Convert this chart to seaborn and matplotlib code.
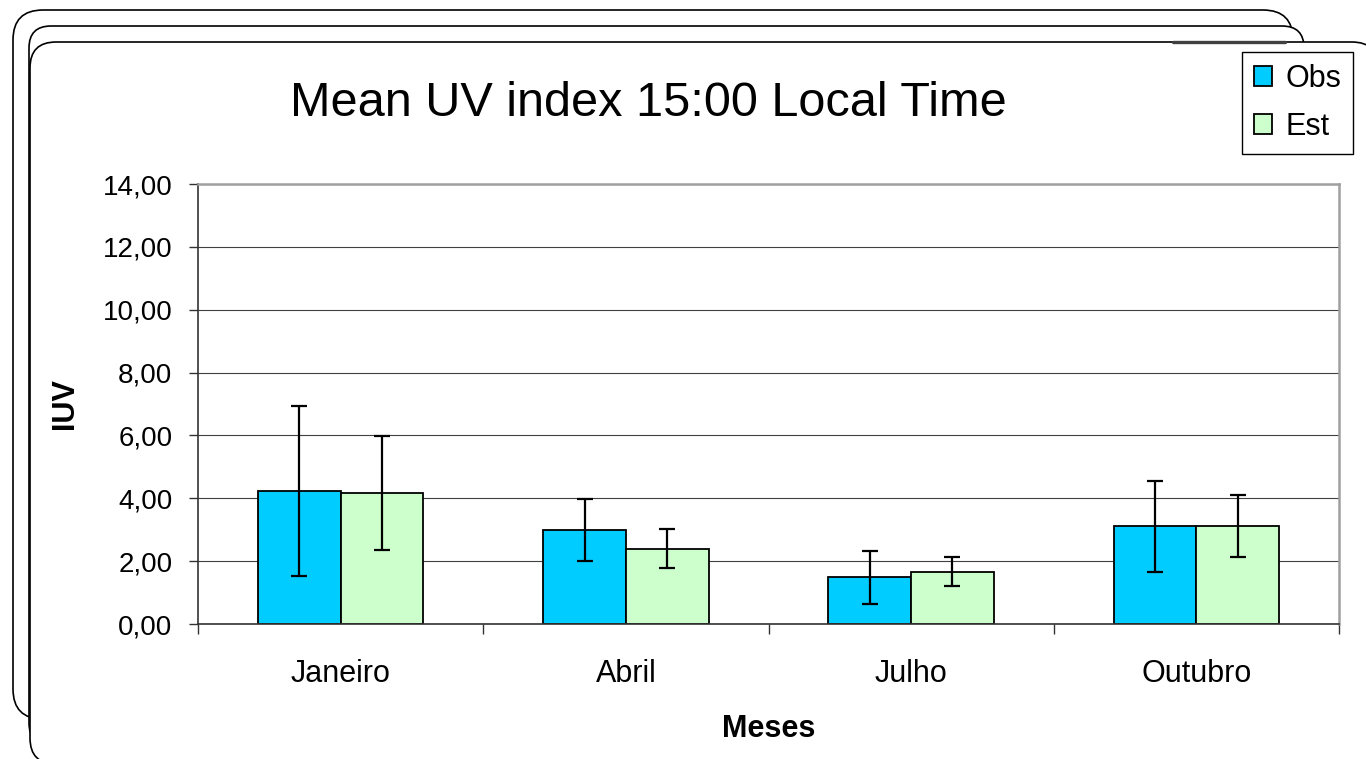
import matplotlib
matplotlib.use("Agg")
import matplotlib.pyplot as plt
from matplotlib.patches import FancyBboxPatch
from matplotlib.lines import Line2D
import numpy as np
import pandas as pd
import seaborn as sns

# ---- data -------------------------------------------------------------
months = ["Janeiro", "Abril", "Julho", "Outubro"]
series = ["Obs", "Est"]
obs_mean = [4.23, 2.99, 1.48, 3.11]
obs_err = [2.70, 0.98, 0.83, 1.45]
est_mean = [4.17, 2.40, 1.66, 3.11]
est_err = [1.81, 0.62, 0.46, 0.99]
y_ticks = [0, 2, 4, 6, 8, 10, 12, 14]
y_tick_labels = ["0,00", "2,00", "4,00", "6,00", "8,00", "10,00", "12,00", "14,00"]

title = "Mean UV index 15:00 Local Time"
x_label = "Meses"
y_label = "IUV"

colors = {"Obs": "#00CCFF", "Est": "#CCFFCC"}

df = pd.DataFrame({
    "Mes": months * 2,
    "Serie": ["Obs"] * len(months) + ["Est"] * len(months),
    "IUV": obs_mean + est_mean,
})
errors = {"Obs": obs_err, "Est": est_err}

# ---- style ------------------------------------------------------------
sns.set_theme(style="white")
plt.rcParams["font.family"] = ["Liberation Sans", "DejaVu Sans"]
plt.rcParams["text.color"] = "black"
plt.rcParams["axes.labelcolor"] = "black"
plt.rcParams["xtick.color"] = "black"
plt.rcParams["ytick.color"] = "black"

W, H, DPI = 1366, 759, 100
fig = plt.figure(figsize=(W / DPI, H / DPI), dpi=DPI, facecolor="white")

# stacked rounded frames behind the chart (pixel coordinates, origin bottom-left)
def frame(x0, y_top, x1, y_bot, r, z):
    p = FancyBboxPatch((x0, H - y_bot), x1 - x0, y_bot - y_top,
                       boxstyle=f"round,pad=0,rounding_size={r}",
                       transform=None, facecolor="white", edgecolor="black",
                       linewidth=1.2, zorder=z)
    fig.add_artist(p)

frame(13, 10, 1293, 719, 30, -3)
frame(29, 26, 1304, 745, 22, -2)
frame(30, 42, 1378, 764, 26, -1)
fig.add_artist(Line2D([1173, 1285], [H - 42, H - 42], transform=None,
                      color="#404040", linewidth=2.4, zorder=-0.5))

# ---- axes -------------------------------------------------------------
left, right, top, bottom = 198, 1339, 184, 624
ax = fig.add_axes([left / W, 1 - bottom / H, (right - left) / W, (bottom - top) / H])
ax.set_facecolor("white")

sns.barplot(data=df, x="Mes", y="IUV", hue="Serie", hue_order=series,
            order=months, palette=colors, saturation=1, width=0.58,
            edgecolor="black", linewidth=1.3, errorbar=None, ax=ax, zorder=2)

for container, name in zip(ax.containers, series):
    xs = [b.get_x() + b.get_width() / 2 for b in container]
    hs = [b.get_height() for b in container]
    ax.errorbar(xs, hs, yerr=errors[name], fmt="none", ecolor="black",
                elinewidth=1.6, capsize=5.8, capthick=1.6, zorder=3)

ax.set_xlim(-0.5, len(months) - 0.5)
ax.set_ylim(0, 14)
ax.set_yticks(y_ticks, labels=y_tick_labels)
ax.yaxis.grid(True, color="#404040", linewidth=0.8, zorder=0)
ax.set_axisbelow(True)

ax.tick_params(axis="y", which="major", direction="out", length=6.5, width=1,
               color="#333333", pad=12, labelsize=20, labelcolor="black", left=True)
ax.set_xticks(range(len(months)), labels=months)
ax.set_xticks(np.arange(-0.5, len(months)), minor=True)
ax.tick_params(axis="x", which="major", length=0, pad=25, labelsize=22, labelcolor="black")
ax.tick_params(axis="x", which="minor", direction="out", length=7.2, width=1,
               color="#333333", bottom=True)

for side in ("left", "bottom"):
    ax.spines[side].set_color("#333333")
    ax.spines[side].set_linewidth(1.2)
for side in ("top", "right"):
    ax.spines[side].set_color("#A0A0A0")
    ax.spines[side].set_linewidth(1.8)
    ax.spines[side].set_visible(True)

ax.set_xlabel(x_label, fontsize=22, fontweight="bold", va="center", color="black")
ax.xaxis.set_label_coords(0.5, -(729 - bottom) / (bottom - top))
ax.set_ylabel(y_label, fontsize=22, fontweight="bold", va="center", color="black")
ax.yaxis.set_label_coords(-(left - 65) / (right - left), 0.5)

fig.text(648 / W, 1 - 103 / H, title, ha="center", va="center", fontsize=35,
         color="black")

handles, labels = ax.get_legend_handles_labels()
leg = ax.legend(handles, labels, loc="upper left",
                bbox_to_anchor=(1242 / W, 1 - 52 / H), bbox_transform=fig.transFigure,
                fontsize=22, frameon=True, fancybox=False, shadow=False,
                edgecolor="black", framealpha=1, borderpad=0.38, labelspacing=0.6,
                handlelength=0.6, handleheight=0.65, handletextpad=0.43,
                borderaxespad=0, labelcolor="black")
leg.get_frame().set_linewidth(1.0)

fig.savefig("out.png", dpi=DPI, facecolor="white")
